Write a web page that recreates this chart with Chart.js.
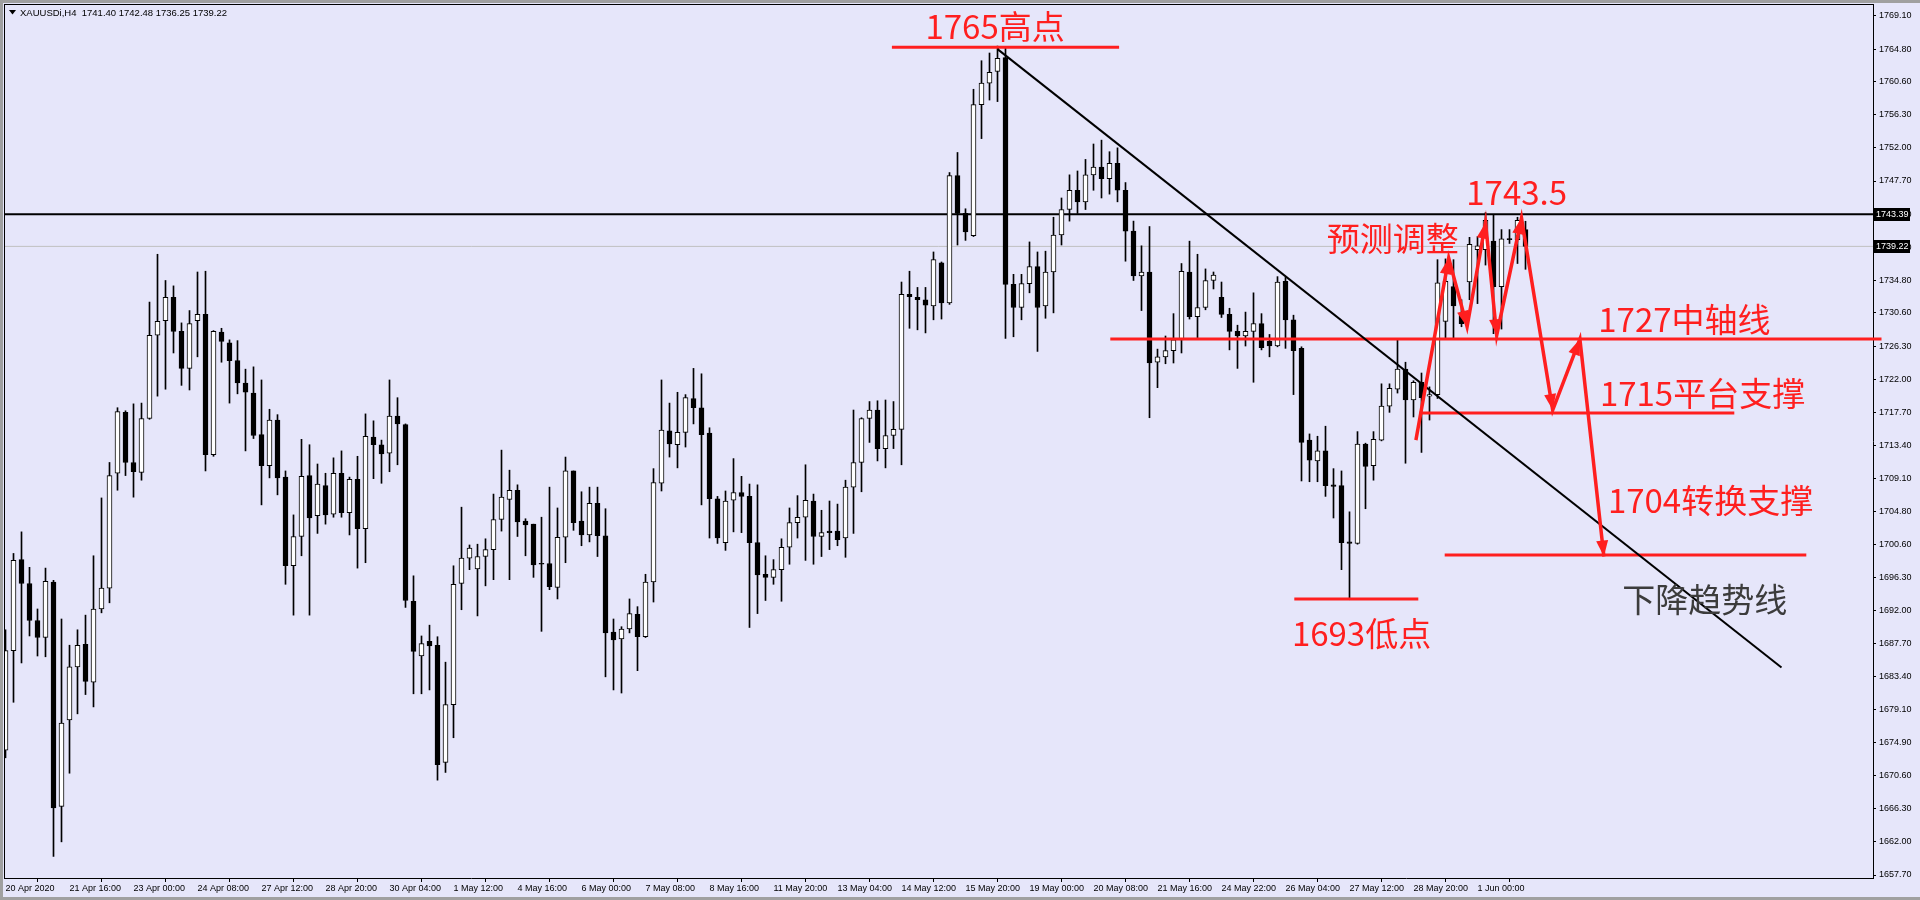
<!DOCTYPE html>
<html lang="zh">
<head>
<meta charset="UTF-8">
<title>XAUUSDi,H4</title>
<script src="https://cdn.jsdelivr.net/npm/chart.js@4.4.0/dist/chart.umd.min.js"></script>
<style>
  html, body { margin: 0; padding: 0; background: #e6e6fa; overflow: hidden; }
  #wrap { width: 1920px; height: 900px; }
</style>
</head>
<body>
<div id="wrap"><canvas id="chart" width="1920" height="900"></canvas></div>
<script>
// H4 candles, 20 Apr 2020 -> 2 Jun 2020 00:00
const opens = [
  1673.9,1686.8,1698.6,1695.5,1690.7,1688.5,1695.7,1666.6,1677.8,1684.7,
  1687.6,1682.7,1692.2,1694.9,1709.8,1717.7,1711.2,1709.9,1716.9,1727.7,
  1729.6,1732.6,1728.2,1723.4,1729.6,1730.4,1712.2,1728.1,1726.7,1724.4,
  1721.5,1720.2,1714.8,1710.8,1716.7,1709.3,1697.8,1701.6,1709.5,1704.3,
  1708.2,1704.5,1709.8,1704.7,1709.0,1702.6,1714.5,1713.5,1712.4,1717.2,
  1716.1,1693.2,1686.1,1688.0,1687.5,1672.3,1679.8,1695.5,1698.8,1697.4,
  1699.0,1699.9,1703.8,1706.4,1707.6,1703.6,1703.2,1698.1,1698.1,1695.0,
  1701.5,1710.1,1703.6,1701.8,1705.9,1701.7,1689.2,1688.3,1689.6,1691.5,
  1688.6,1695.7,1708.5,1715.3,1713.5,1715.1,1719.5,1718.3,1715.0,1706.5,
  1700.8,1706.3,1707.3,1706.8,1700.8,1696.7,1696.3,1697.3,1700.2,1703.4,
  1704.1,1706.2,1701.6,1702.3,1702.3,1701.4,1708.0,1711.2,1716.9,1718.0,
  1713.0,1714.7,1715.5,1733.0,1732.6,1732.3,1731.5,1737.1,1731.9,1748.4,
  1743.5,1740.6,1757.6,1760.4,1761.9,1763.7,1734.3,1731.3,1734.4,1736.6,
  1731.5,1735.9,1740.7,1744.0,1746.5,1745.0,1748.5,1749.5,1748.0,1750.0,
  1746.5,1741.2,1735.4,1735.9,1724.2,1724.9,1725.7,1727.1,1735.9,1730.1,
  1731.3,1734.8,1732.6,1730.4,1728.2,1727.6,1728.2,1729.2,1726.9,1726.3,
  1734.7,1729.7,1726.0,1714.1,1711.4,1712.7,1708.3,1708.2,1700.9,1700.7,
  1713.6,1710.8,1714.1,1718.5,1720.7,1723.3,1719.3,1721.6,1719.8,1720.0,
  1729.5,1734.0,1730.5,1734.6,1738.8,1738.8,1739.9,1734.0,1740.2,1740.1,
  1741.40
];
const highs = [
  1689.5,1699.4,1702.2,1697.6,1692.2,1697.5,1695.9,1690.9,1687.5,1689.5,
  1691.4,1699.1,1706.6,1711.2,1718.3,1717.9,1718.8,1718.9,1732.0,1738.2,
  1734.8,1734.1,1729.3,1730.9,1735.9,1736.0,1728.3,1728.6,1727.1,1727.0,
  1723.3,1723.6,1721.9,1718.1,1717.4,1710.1,1704.4,1714.2,1713.5,1711.0,
  1709.8,1711.8,1712.7,1709.3,1712.0,1717.5,1716.6,1714.1,1721.9,1719.6,
  1716.2,1696.5,1688.7,1690.1,1688.6,1685.3,1697.8,1705.4,1700.5,1700.6,
  1701.3,1707.1,1712.8,1710.2,1708.3,1703.9,1703.2,1704.1,1708.0,1705.3,
  1711.9,1710.1,1707.4,1708.0,1708.0,1705.2,1690.9,1689.9,1693.5,1692.5,
  1696.7,1710.4,1721.9,1718.9,1720.3,1720.0,1723.4,1722.7,1715.7,1706.8,
  1707.5,1711.7,1709.4,1708.4,1708.3,1699.1,1698.6,1701.3,1705.3,1706.9,
  1710.9,1707.1,1705.0,1706.2,1705.8,1708.9,1718.0,1717.0,1719.1,1719.2,
  1719.3,1719.1,1734.6,1736.0,1733.9,1733.9,1738.5,1737.2,1748.8,1751.4,
  1744.1,1759.6,1763.3,1764.3,1765.2,1764.9,1735.6,1735.6,1739.8,1738.5,
  1738.6,1743.0,1745.5,1748.5,1749.0,1750.5,1752.5,1753.0,1751.5,1752.0,
  1747.5,1742.5,1739.3,1741.8,1725.9,1727.6,1730.5,1737.0,1739.9,1738.2,
  1736.3,1735.9,1734.6,1731.2,1729.0,1730.7,1733.2,1730.5,1727.8,1735.3,
  1735.2,1730.3,1726.2,1714.9,1714.6,1715.9,1710.4,1710.1,1704.8,1715.2,
  1713.7,1715.2,1721.4,1721.4,1727.1,1724.2,1721.8,1722.8,1721.0,1737.5,
  1737.6,1737.5,1732.3,1740.4,1740.5,1743.6,1743.3,1741.4,1741.4,1743.0,
  1742.48
];
const lows = [
  1672.9,1680.1,1685.2,1688.7,1686.1,1686.0,1660.1,1662.0,1670.9,1678.6,
  1681.1,1679.5,1691.7,1693.0,1707.6,1709.5,1706.7,1708.9,1716.8,1719.8,
  1720.7,1725.4,1721.2,1720.6,1724.9,1710.1,1712.0,1724.2,1718.9,1720.1,
  1712.7,1714.3,1705.7,1709.2,1707.0,1695.4,1691.4,1699.1,1691.4,1702.0,
  1703.2,1704.1,1704.1,1701.8,1697.5,1698.2,1709.1,1708.5,1710.0,1710.9,
  1692.4,1681.2,1681.2,1681.7,1670.0,1671.0,1675.5,1692.1,1697.3,1691.3,
  1695.2,1696.0,1702.3,1696.0,1701.6,1699.1,1696.3,1689.3,1694.7,1693.5,
  1698.2,1702.4,1700.4,1700.9,1699.0,1683.4,1681.7,1681.3,1689.1,1684.2,
  1688.5,1693.1,1707.5,1711.9,1710.5,1713.2,1716.2,1705.7,1701.4,1700.7,
  1699.8,1702.2,1702.1,1689.8,1691.6,1693.3,1695.4,1693.2,1698.0,1701.4,
  1698.5,1698.0,1699.0,1699.9,1700.4,1698.9,1702.0,1707.4,1713.8,1711.4,
  1710.5,1713.0,1710.9,1728.6,1728.4,1728.0,1729.7,1729.8,1731.7,1739.4,
  1740.0,1740.5,1753.2,1758.2,1758.0,1727.3,1727.5,1729.7,1733.2,1725.6,
  1729.9,1730.6,1739.4,1742.5,1743.5,1744.0,1746.5,1745.5,1746.0,1745.0,
  1737.3,1734.8,1730.9,1717.0,1720.9,1724.0,1724.1,1725.4,1729.8,1727.3,
  1731.0,1733.7,1730.0,1725.8,1723.4,1726.3,1721.6,1725.8,1724.9,1726.2,
  1726.0,1720.0,1708.8,1708.7,1708.7,1706.8,1704.0,1697.3,1693.4,1700.6,
  1705.2,1708.9,1714.0,1717.7,1720.2,1711.1,1717.1,1712.5,1716.7,1719.5,
  1727.3,1727.3,1728.8,1732.3,1731.8,1736.8,1727.9,1728.5,1739.6,1737.0,
  1736.25
];
const closes = [
  1686.8,1698.5,1695.5,1690.7,1688.5,1695.8,1666.4,1677.4,1684.7,1687.5,
  1682.8,1692.2,1694.9,1709.5,1717.8,1711.2,1710.0,1716.9,1727.7,1729.5,
  1732.6,1728.2,1723.4,1729.2,1730.4,1712.2,1728.2,1726.9,1724.4,1721.5,
  1720.3,1714.7,1710.8,1716.7,1709.2,1697.8,1701.6,1709.4,1704.0,1708.4,
  1704.4,1709.8,1704.7,1709.0,1702.6,1714.6,1713.5,1712.3,1717.2,1716.2,
  1693.3,1686.7,1687.7,1687.4,1672.0,1679.8,1695.4,1698.8,1700.1,1699.0,
  1699.9,1703.8,1706.7,1707.6,1703.5,1703.1,1697.9,1698.0,1695.1,1701.5,
  1710.1,1703.4,1701.8,1705.9,1701.7,1689.1,1688.2,1689.6,1691.6,1688.6,
  1695.7,1708.6,1715.4,1713.6,1715.1,1719.6,1718.3,1714.8,1706.5,1701.4,
  1706.2,1707.3,1706.8,1700.8,1696.6,1696.3,1697.3,1700.2,1703.4,1704.1,
  1706.3,1701.6,1702.1,1702.1,1701.2,1708.0,1711.2,1716.9,1718.0,1713.0,
  1714.7,1715.5,1733.0,1732.7,1732.3,1731.6,1737.5,1731.9,1748.4,1743.5,
  1741.1,1757.6,1760.4,1761.8,1763.6,1734.3,1731.3,1734.4,1736.6,1731.3,
  1735.9,1740.7,1744.0,1746.5,1745.0,1748.5,1749.5,1748.0,1750.0,1746.5,
  1741.2,1735.4,1735.9,1724.1,1724.9,1725.7,1727.1,1736.0,1730.1,1731.3,
  1734.8,1735.5,1730.4,1728.2,1727.6,1728.2,1729.2,1726.1,1726.3,1734.6,
  1729.7,1725.7,1713.8,1711.5,1712.7,1708.2,1708.1,1700.8,1700.7,1713.6,
  1710.7,1714.2,1718.5,1720.8,1723.3,1719.3,1721.6,1719.6,1720.0,1734.5,
  1734.7,1731.5,1729.2,1739.5,1739.3,1742.6,1734.0,1740.2,1740.1,1742.6,
  1739.22
];

// one time label every 8 bars
const timeLabels = [
  '20 Apr 2020','21 Apr 16:00','23 Apr 00:00','24 Apr 08:00','27 Apr 12:00','28 Apr 20:00',
  '30 Apr 04:00','1 May 12:00','4 May 16:00','6 May 00:00','7 May 08:00','8 May 16:00',
  '11 May 20:00','13 May 04:00','14 May 12:00','15 May 20:00','19 May 00:00','20 May 08:00',
  '21 May 16:00','24 May 22:00','26 May 04:00','27 May 12:00','28 May 20:00','1 Jun 00:00'
];
const priceTicks = [
  1657.70,1662.00,1666.30,1670.60,1674.90,1679.10,1683.40,1687.70,1692.00,
  1696.30,1700.60,1704.80,1709.10,1713.40,1717.70,1722.00,1726.30,1730.60,
  1734.80,1739.10,1743.40,1747.70,1752.00,1756.30,1760.60,1764.80,1769.10
];
const askPrice = 1743.39;
const bidPrice = 1739.22;

// drawn objects, in (bar, price)
const trendLine = [[124.0, 1764.8], [222.0, 1684.6]];
const levelLines = [
  [[110.8, 1765.05], [139.2, 1765.05]],
  [[138.1, 1727.2], [234.5, 1727.2]],
  [[176.75, 1717.6], [216.1, 1717.6]],
  [[179.9, 1699.2], [225.1, 1699.2]],
  [[161.1, 1693.5], [176.6, 1693.5]]
];
const forecastPath = [
  [176.3, 1714.1], [180.4, 1737.7], [182.7, 1728.8], [185.0, 1742.3], [186.4, 1727.7],
  [189.5, 1742.9], [193.4, 1718.0], [196.8, 1727.2], [199.8, 1699.0]
];
const notes = [
  ['1765高点', 123.7, 1767.7, 'center'],
  ['1743.5', 182.6, 1746.2, 'left'],
  ['预测调整', 173.4, 1740.2, 'center'],
  ['1727中轴线', 199.1, 1729.8, 'left'],
  ['1715平台支撑', 199.3, 1720.1, 'left'],
  ['1704转换支撑', 200.3, 1706.3, 'left'],
  ['下降趋势线', 202.1, 1693.4, 'left'],
  ['1693低点', 160.8, 1689.0, 'left']
];

const RED = '#ff1f1f';
const axisFont = '"Liberation Sans", Arial, sans-serif';
const noteFont = '"Noto Sans CJK SC", "Noto Sans", sans-serif';
const X_MIN = -0.1875, X_MAX = 233.4375;
const Y_MIN = 1657.311, Y_MAX = 1770.656;

const pts = arr => arr.map(p => ({ x: p[0], y: p[1] }));
const bodies = opens.map((o, i) => ({ x: i, y: [Math.min(o, closes[i]), Math.max(o, closes[i])] }));
const wicks = highs.map((h, i) => ({ x: i, y: [lows[i], h] }));
const bodyColors = opens.map((o, i) => closes[i] >= o ? '#ffffff' : '#000000');

function lineSet(data, color, width, order, extra) {
  return Object.assign({
    type: 'line', data: pts(data), borderColor: color, borderWidth: width,
    pointRadius: 0, fill: false, tension: 0, order: order
  }, extra || {});
}

const decor = {
  id: 'decor',
  beforeDraw(chart) {
    const { ctx, width, height } = chart;
    ctx.save();
    ctx.fillStyle = '#e6e6fa';
    ctx.fillRect(0, 0, width, height);
    ctx.fillStyle = '#a0a0a0';
    ctx.fillRect(0, 0, width, 3);
    ctx.fillRect(0, 0, 3, height);
    ctx.fillRect(0, height - 3, width, 3);
    ctx.restore();
  },
  afterDatasetsDraw(chart) {
    const { ctx, scales: { x, y } } = chart;
    ctx.save();
    ctx.fillStyle = RED;
    for (let i = 1; i < forecastPath.length; i++) {
      const x0 = x.getPixelForValue(forecastPath[i - 1][0]), y0 = y.getPixelForValue(forecastPath[i - 1][1]);
      const x1 = x.getPixelForValue(forecastPath[i][0]), y1 = y.getPixelForValue(forecastPath[i][1]);
      const a = Math.atan2(y1 - y0, x1 - x0);
      ctx.beginPath();
      ctx.moveTo(x1, y1);
      ctx.lineTo(x1 - 16 * Math.cos(a) + 6 * Math.sin(a), y1 - 16 * Math.sin(a) - 6 * Math.cos(a));
      ctx.lineTo(x1 - 16 * Math.cos(a) - 6 * Math.sin(a), y1 - 16 * Math.sin(a) + 6 * Math.cos(a));
      ctx.closePath();
      ctx.fill();
    }
    ctx.restore();
  },
  afterDraw(chart) {
    const { ctx, chartArea: a, scales: { x, y } } = chart;
    ctx.save();
    // frame top / left
    ctx.fillStyle = '#000';
    ctx.fillRect(a.left, a.top, a.right - a.left, 1);
    ctx.fillRect(a.left, a.top, 1, a.bottom - a.top);

    // header
    ctx.beginPath();
    ctx.moveTo(9, 10); ctx.lineTo(16, 10); ctx.lineTo(12.5, 14.5); ctx.closePath();
    ctx.fill();
    ctx.font = '9.5px ' + axisFont;
    ctx.textBaseline = 'middle';
    ctx.textAlign = 'left';
    ctx.fillText('XAUUSDi,H4  ' + [opens[190], highs[190], lows[190], closes[190]].map(v => v.toFixed(2)).join(' '), 20, 13);

    // price boxes on the axis
    [askPrice, bidPrice].forEach(p => {
      const py = Math.round(y.getPixelForValue(p));
      ctx.fillStyle = '#000';
      ctx.fillRect(a.right + 1, py - 6, 36, 13);
      ctx.fillStyle = '#fff';
      ctx.font = '9px ' + axisFont;
      ctx.fillText(p.toFixed(2), a.right + 3, py + 0.5);
    });

    // notes
    ctx.font = '33px ' + noteFont;
    notes.forEach(n => {
      ctx.fillStyle = n[0] === '下降趋势线' ? '#3c3c3c' : RED;
      ctx.textAlign = n[3];
      ctx.fillText(n[0], x.getPixelForValue(n[1]), y.getPixelForValue(n[2]));
    });
    ctx.restore();
  }
};

new Chart(document.getElementById('chart'), {
  data: {
    datasets: [
      lineSet([[X_MIN, askPrice], [X_MAX, askPrice]], '#000', 2, 10),
      lineSet([[X_MIN, bidPrice], [X_MAX, bidPrice]], '#c0c0c0', 1, 10),
      { type: 'bar', data: wicks, backgroundColor: '#000', barThickness: 1, grouped: false, order: 5 },
      { type: 'bar', data: bodies, backgroundColor: bodyColors, borderColor: '#000', borderWidth: 1,
        borderSkipped: false, barThickness: 5, minBarLength: 1, grouped: false, order: 4 },
      lineSet(trendLine, '#000', 2, 1),
      ...levelLines.map((l, i) => lineSet(l, RED, 3, 1, i === 1 ? { clip: { left: 0, top: 0, right: 10, bottom: 0 } } : {})),
      lineSet(forecastPath, RED, 3.5, 0, { borderJoinStyle: 'miter' })
    ]
  },
  options: {
    responsive: false,
    animation: false,
    events: [],
    layout: { padding: { left: 4, top: 4, right: 0, bottom: 0 } },
    plugins: { legend: { display: false }, tooltip: { enabled: false } },
    scales: {
      x: {
        type: 'linear', min: X_MIN, max: X_MAX, offset: false, bounds: 'data',
        grid: { drawOnChartArea: false, tickLength: 4, color: '#000' },
        border: { display: true, color: '#000', width: 1 },
        ticks: {
          autoSkip: false, maxRotation: 0, minRotation: 0, align: 'start', padding: 1,
          color: '#000', font: { family: axisFont, size: 9 },
          callback: (v, i) => timeLabels[i]
        },
        afterBuildTicks: s => { s.ticks = timeLabels.map((_, i) => ({ value: i * 8 })); },
        afterFit: s => { s.height = 22; s.paddingLeft = 0; s.paddingRight = 0; }
      },
      y: {
        type: 'linear', position: 'right', min: Y_MIN, max: Y_MAX, bounds: 'data',
        grid: { drawOnChartArea: false, tickLength: 3, color: '#000' },
        border: { display: true, color: '#000', width: 1 },
        ticks: {
          padding: 3, color: '#000', font: { family: axisFont, size: 9 },
          callback: v => Number(v).toFixed(2)
        },
        afterBuildTicks: s => { s.ticks = priceTicks.map(v => ({ value: v })); },
        afterFit: s => { s.width = 47; s.paddingTop = 0; s.paddingBottom = 0; }
      }
    }
  },
  plugins: [decor]
});
</script>
</body>
</html>
